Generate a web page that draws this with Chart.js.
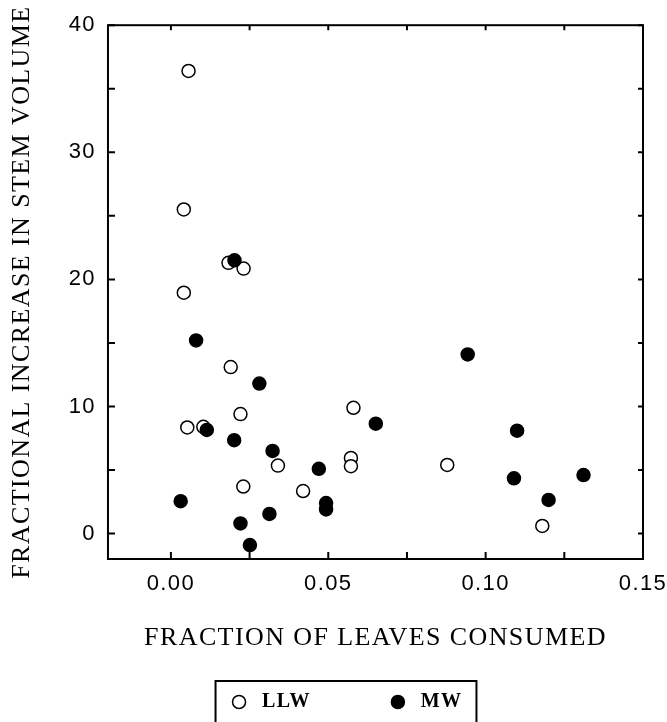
<!DOCTYPE html>
<html>
<head>
    <title>Stem Volume vs Leaves Consumed</title>
    <script src="https://cdn.jsdelivr.net/npm/chart.js"></script>
    <style>
        body { margin: 0; background: #fff; }
        #chartDiv { width: 667px; height: 722px; }
    </style>
</head>
<body>
    <div id="chartDiv">
        <canvas id="volumeChart"></canvas>
    </div>

    <script>
        // LLW = open circles, MW = filled circles
        var llwX = [0.0056, 0.0041, 0.0183, 0.0231, 0.0041, 0.0190, 0.0580, 0.0221, 0.0052,
                    0.0103, 0.0340, 0.0572, 0.0572, 0.0878, 0.0230, 0.0420, 0.1180];
        var llwY = [36.4, 25.5, 21.3, 20.85, 18.95, 13.1, 9.9, 9.4, 8.35,
                    8.4, 5.35, 5.95, 5.3, 5.4, 3.7, 3.35, 0.6];
        var mwX = [0.0202, 0.0080, 0.0281, 0.0943, 0.0114, 0.0651, 0.1100, 0.0201, 0.0323, 0.0470,
                   0.1090, 0.1311, 0.0031, 0.0493, 0.0493, 0.1200, 0.0313, 0.0221, 0.0251];
        var mwY = [21.5, 15.2, 11.8, 14.1, 8.15, 8.65, 8.1, 7.35, 6.5, 5.1,
                   4.35, 4.6, 2.55, 2.4, 1.9, 2.65, 1.55, 0.8, -0.9];

        var xMajor = [0, 0.05, 0.10, 0.15];
        var xMinor = [0.025, 0.075, 0.125];
        var yMajor = [0, 10, 20, 30, 40];
        var yMinor = [5, 15, 25, 35];

        function toPoints(xs, ys) {
            var pts = [];
            for (var i = 0; i < xs.length; i++) {
                pts.push({x: xs[i], y: ys[i]});
            }
            return pts;
        }

        function allTicks(major, minor) {
            return major.concat(minor).sort(function (a, b) { return a - b; })
                .map(function (v) { return {value: v}; });
        }

        var SPACING = '1.4px';

        // wide typewriter-ish lettering of the original
        var spacingPlugin = {
            id: 'spacing',
            beforeLayout: function (chart) { chart.ctx.letterSpacing = SPACING; },
            beforeDraw: function (chart) { chart.ctx.letterSpacing = SPACING; }
        };

        // boxed plot with inward ticks on all four sides, plus the legend frame
        var framePlugin = {
            id: 'frame',
            beforeDatasetsDraw: function (chart) {
                var ctx = chart.ctx, a = chart.chartArea;
                var sx = chart.scales.x, sy = chart.scales.y;
                ctx.save();
                ctx.strokeStyle = '#000';
                ctx.lineWidth = 2;
                ctx.strokeRect(a.left, a.top, a.right - a.left, a.bottom - a.top);
                ctx.beginPath();
                sx.ticks.forEach(function (t) {
                    var px = sx.getPixelForValue(t.value);
                    ctx.moveTo(px, a.bottom); ctx.lineTo(px, a.bottom - 7);
                    ctx.moveTo(px, a.top); ctx.lineTo(px, a.top + 5);
                });
                sy.ticks.forEach(function (t) {
                    var py = sy.getPixelForValue(t.value);
                    ctx.moveTo(a.left, py); ctx.lineTo(a.left + 7, py);
                    ctx.moveTo(a.right, py); ctx.lineTo(a.right - 5, py);
                });
                ctx.stroke();
                ctx.restore();
            },
            afterDraw: function (chart) {
                var boxes = chart.legend && chart.legend.legendHitBoxes;
                if (!boxes || !boxes.length) return;
                var first = boxes[0], last = boxes[boxes.length - 1];
                var left = first.left - 17;
                var right = last.left + last.width + 14;
                var top = first.top - 11;
                var ctx = chart.ctx;
                ctx.save();
                ctx.strokeStyle = '#000';
                ctx.lineWidth = 2;
                ctx.strokeRect(left, top, right - left, chart.height + 10 - top);
                ctx.restore();
            }
        };

        Chart.defaults.color = '#000';

        var ctx = document.getElementById('volumeChart');
        var volumeChart = new Chart(ctx, {
            type: 'scatter',
            data: {
                datasets: [{
                    label: 'LLW',
                    data: toPoints(llwX, llwY),
                    order: 1,
                    backgroundColor: '#fff',
                    borderColor: '#000',
                    pointBackgroundColor: '#fff',
                    pointBorderColor: '#000',
                    pointBorderWidth: 1.5,
                    pointRadius: 6.5,
                    pointHoverRadius: 6.5
                }, {
                    label: 'MW',
                    data: toPoints(mwX, mwY),
                    order: 0,
                    backgroundColor: '#000',
                    borderColor: '#000',
                    pointBackgroundColor: '#000',
                    pointBorderColor: '#000',
                    pointBorderWidth: 1.5,
                    pointRadius: 6.5,
                    pointHoverRadius: 6.5
                }]
            },
            options: {
                responsive: true,
                maintainAspectRatio: false,
                animation: false,
                layout: {
                    padding: {left: 28, right: 0, top: 25, bottom: 0}
                },
                scales: {
                    x: {
                        type: 'linear',
                        min: -0.02,
                        max: 0.15,
                        afterBuildTicks: function (scale) { scale.ticks = allTicks(xMajor, xMinor); },
                        afterFit: function (scale) { scale.paddingRight = 24; },
                        grid: {display: false, drawTicks: false},
                        border: {display: false},
                        ticks: {
                            padding: 12,
                            maxRotation: 0,
                            autoSkip: false,
                            font: {family: 'Liberation Sans', size: 22},
                            callback: function (value) {
                                return xMajor.indexOf(value) >= 0 ? value.toFixed(2) : '';
                            }
                        },
                        title: {
                            display: true,
                            text: 'FRACTION OF LEAVES CONSUMED',
                            font: {family: 'Liberation Serif', size: 26},
                            padding: {top: 13, bottom: 28.4}
                        }
                    },
                    y: {
                        type: 'linear',
                        min: -2,
                        max: 40,
                        afterBuildTicks: function (scale) { scale.ticks = allTicks(yMajor, yMinor); },
                        grid: {display: false, drawTicks: false},
                        border: {display: false},
                        ticks: {
                            padding: 12,
                            autoSkip: false,
                            font: {family: 'Liberation Sans', size: 22},
                            callback: function (value) {
                                return yMajor.indexOf(value) >= 0 ? String(value) : '';
                            }
                        },
                        title: {
                            display: true,
                            text: 'FRACTIONAL INCREASE IN STEM VOLUME',
                            font: {family: 'Liberation Serif', size: 26},
                            padding: {top: -21.1, bottom: 18.6}
                        }
                    }
                },
                plugins: {
                    tooltip: {enabled: false},
                    legend: {
                        position: 'bottom',
                        labels: {
                            usePointStyle: true,
                            pointStyleWidth: 13,
                            boxHeight: 9.2,
                            padding: 10,
                            font: {family: 'Liberation Serif', size: 20, weight: 'bold'},
                            sort: function (a, b) { return a.datasetIndex - b.datasetIndex; },
                            generateLabels: function (chart) {
                                var items = Chart.defaults.plugins.legend.labels.generateLabels(chart);
                                items.forEach(function (item) {
                                    item.text = ' ' + item.text;
                                    // pad the first entry so the two keys sit far apart
                                    if (item.datasetIndex === 0) item.text = item.text + '           ';
                                });
                                return items;
                            }
                        }
                    }
                }
            },
            plugins: [spacingPlugin, framePlugin]
        });
    </script>
</body>
</html>
